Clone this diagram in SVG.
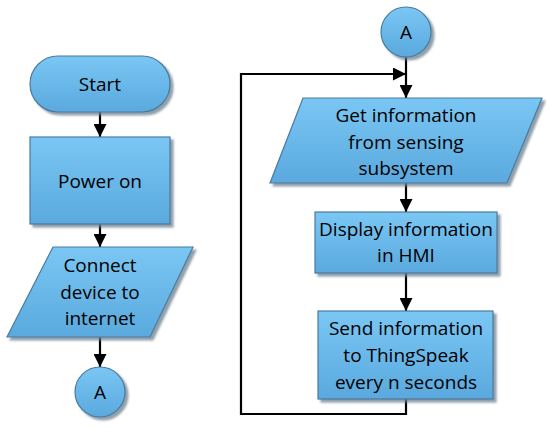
<svg xmlns="http://www.w3.org/2000/svg" width="550" height="428" viewBox="0 0 550 428">
<defs>
<linearGradient id="g" x1="0" y1="0" x2="0" y2="1">
<stop offset="0" stop-color="#7ac7f4"/>
<stop offset="1" stop-color="#5aa9de"/>
</linearGradient>
<filter id="sh" x="-10%" y="-10%" width="130%" height="130%">
<feGaussianBlur in="SourceAlpha" stdDeviation="1"/>
<feOffset dx="2.5" dy="2.5" result="b"/>
<feFlood flood-color="#6a7f8e" flood-opacity="0.75"/>
<feComposite in2="b" operator="in"/>
<feMerge><feMergeNode/><feMergeNode in="SourceGraphic"/></feMerge>
</filter>
<marker id="ah" viewBox="0 0 10 10" refX="10" refY="5" markerWidth="13" markerHeight="13" markerUnits="userSpaceOnUse" orient="auto">
<path d="M0,0 L10,5 L0,10 Z" fill="#000"/>
</marker>
</defs>
<style>
.s{fill:url(#g);stroke:#4a7a9e;stroke-width:1.2;filter:url(#sh)}
.t{font-family:"Open Sans","Liberation Sans",sans-serif;font-size:19px;fill:#000;text-anchor:middle}
.c{fill:none;stroke:#000;stroke-width:2.2}
</style>
<rect width="550" height="428" fill="#fff"/>
<g id="connectors">
<line class="c" x1="100" y1="112" x2="100" y2="137" marker-end="url(#ah)"/>
<line class="c" x1="100" y1="224" x2="100" y2="247" marker-end="url(#ah)"/>
<line class="c" x1="100" y1="337" x2="100" y2="367" marker-end="url(#ah)"/>
<line class="c" x1="406" y1="57" x2="406" y2="98" marker-end="url(#ah)"/>
<line class="c" x1="406" y1="183" x2="406" y2="212" marker-end="url(#ah)"/>
<line class="c" x1="406" y1="273" x2="406" y2="311" marker-end="url(#ah)"/>
<polyline class="c" points="406,399 406,414 241,414 241,74 406,74" marker-end="url(#ah)"/>
</g>
<g id="start">
<rect class="s" x="30" y="56" width="140" height="56" rx="28" ry="28"/>
<text class="t" x="100" y="91">Start</text>
</g>
<g id="power">
<rect class="s" x="30" y="137" width="140" height="87"/>
<text class="t" x="100" y="188">Power on</text>
</g>
<g id="connect">
<polygon class="s" points="53,247 193,247 150,337 7,337"/>
<text class="t" x="100" y="272">Connect</text>
<text class="t" x="100" y="299">device to</text>
<text class="t" x="100" y="325">internet</text>
</g>
<g id="a1">
<circle class="s" cx="100" cy="392" r="25"/>
<text class="t" x="100" y="399">A</text>
</g>
<g id="a2">
<circle class="s" cx="406" cy="32" r="25"/>
<text class="t" x="406" y="39">A</text>
</g>
<g id="get">
<polygon class="s" points="303,98 542,98 507,183 270,183"/>
<text class="t" x="406" y="122">Get information</text>
<text class="t" x="406" y="149">from sensing</text>
<text class="t" x="406" y="175">subsystem</text>
</g>
<g id="display">
<rect class="s" x="315" y="212" width="182" height="61"/>
<text class="t" x="406" y="236">Display information</text>
<text class="t" x="406" y="262">in HMI</text>
</g>
<g id="send">
<rect class="s" x="318" y="311" width="175" height="88"/>
<text class="t" x="406" y="335">Send information</text>
<text class="t" x="406" y="362">to ThingSpeak</text>
<text class="t" x="406" y="389">every n seconds</text>
</g>
</svg>
